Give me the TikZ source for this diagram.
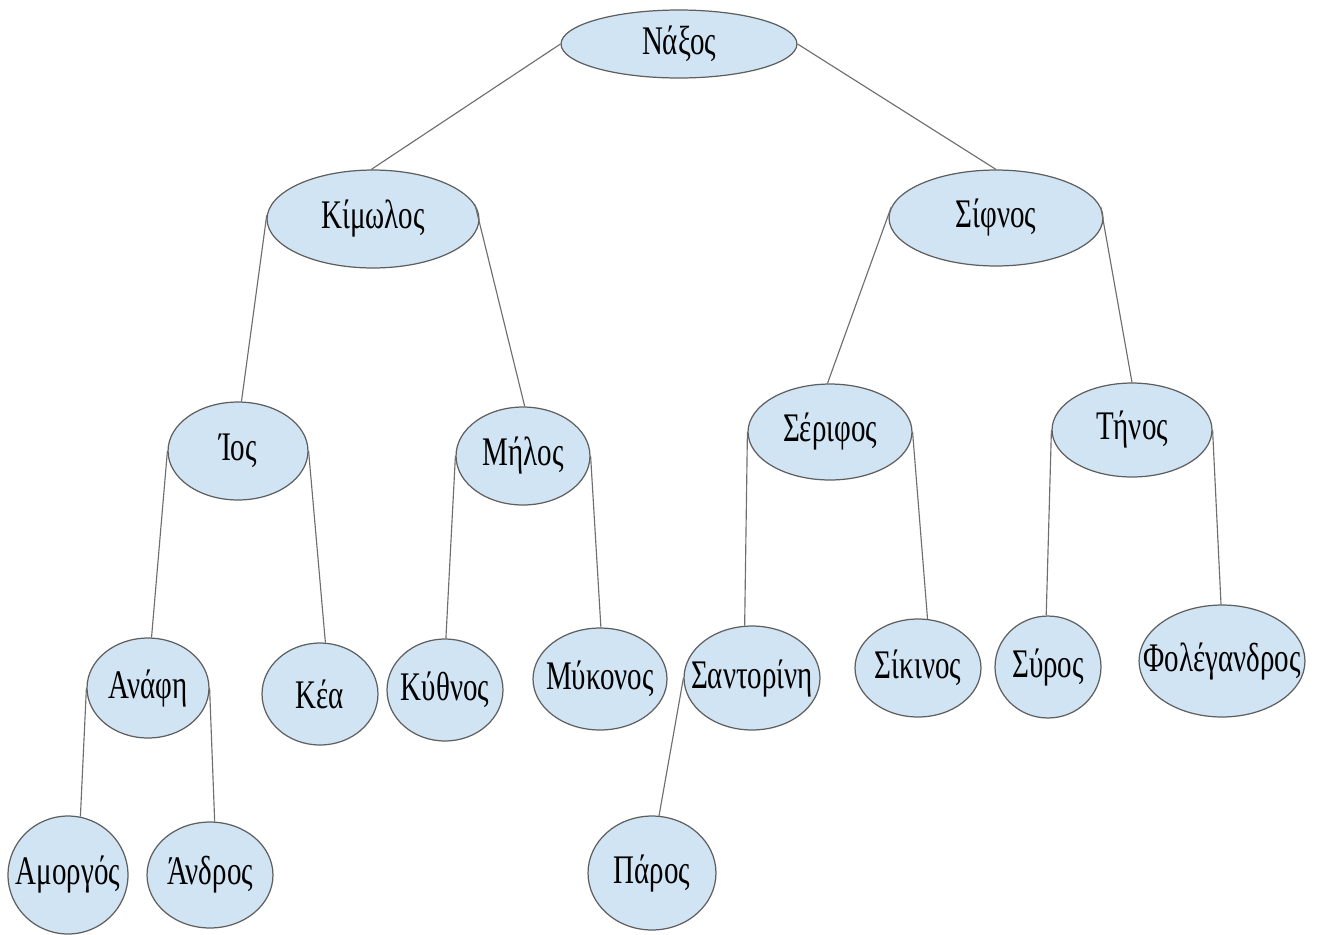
\documentclass[tikz,border=0pt]{standalone}
\usepackage{fontspec}
\usepackage{graphicx}
\setmainfont{Liberation Serif}
\usetikzlibrary{shapes.geometric}
\definecolor{islefill}{RGB}{208,228,243}
\definecolor{isleline}{RGB}{95,95,95}
\definecolor{edgeline}{RGB}{110,110,110}
\newcommand\tallname[1]{\scalebox{1}[1.4]{#1}}
\tikzset{
  isle/.style={ellipse, draw=isleline, line width=0.7pt, fill=islefill, inner sep=0pt},
  sz/.style 2 args={minimum width=#1*0.04cm, minimum height=#2*0.04cm},
  txt/.style={font=\fontsize{16.5}{18}\selectfont, inner sep=0pt, text=black},
  link/.style={draw=edgeline, line width=0.65pt},
}
\begin{document}
\begin{tikzpicture}[x=0.02cm, y=-0.02cm]
\useasboundingbox (0,0) rectangle (1318,934);
% ellipses, placed by centre with half-axes rx, ry
\node[isle, sz={118}{34}] (naxos) at (679,44) {};
\node[isle, sz={106}{49}] (kimolos) at (373,219) {};
\node[isle, sz={107}{48}] (sifnos) at (996,218) {};
\node[isle, sz={70}{49}] (ios) at (238,451) {};
\node[isle, sz={67}{49}] (milos) at (523,456) {};
\node[isle, sz={82}{48}] (serifos) at (830,432) {};
\node[isle, sz={80}{47}] (tinos) at (1132,430) {};
\node[isle, sz={61}{50}] (anafi) at (148,688) {};
\node[isle, sz={58}{51}] (kea) at (320,694) {};
\node[isle, sz={58}{51}] (kythnos) at (445,690) {};
\node[isle, sz={67}{51}] (mykonos) at (600,679) {};
\node[isle, sz={68}{52}] (santorini) at (752,678) {};
\node[isle, sz={63}{49}] (sikinos) at (918,668) {};
\node[isle, sz={53}{51}] (syros) at (1048,667) {};
\node[isle, sz={83}{56}] (folegandros) at (1222,661) {};
\node[isle, sz={60}{59}] (amorgos) at (68,875) {};
\node[isle, sz={63}{53}] (andros) at (210,875) {};
\node[isle, sz={64}{57}] (paros) at (652,873) {};
% names
\node[txt] (naxos-t) at (naxos) {\tallname{Νάξος}};
\node[txt] (kimolos-t) at (kimolos) {\tallname{Κίμωλος}};
\node[txt] (sifnos-t) at (sifnos) {\tallname{Σίφνος}};
\node[txt] (ios-t) at (ios) {\tallname{Ίος}};
\node[txt] (milos-t) at (milos) {\tallname{Μήλος}};
\node[txt] (serifos-t) at (serifos) {\tallname{Σέριφος}};
\node[txt] (tinos-t) at (tinos) {\tallname{Τήνος}};
\node[txt] (anafi-t) at (anafi) {\tallname{Ανάφη}};
\node[txt] (kea-t) at (kea) {\tallname{Κέα}};
\node[txt] (kythnos-t) at (kythnos) {\tallname{Κύθνος}};
\node[txt] (mykonos-t) at (mykonos) {\tallname{Μύκονος}};
\node[txt] (santorini-t) at (santorini) {\tallname{Σαντορίνη}};
\node[txt] (sikinos-t) at (sikinos) {\tallname{Σίκινος}};
\node[txt] (syros-t) at (syros) {\tallname{Σύρος}};
\node[txt] (folegandros-t) at (folegandros) {\tallname{Φολέγανδρος}};
\node[txt] (amorgos-t) at (amorgos) {\tallname{Αμοργός}};
\node[txt] (andros-t) at (andros) {\tallname{Άνδρος}};
\node[txt] (paros-t) at (paros) {\tallname{Πάρος}};
% tree edges: parent side to the top of each child
\path[link] (naxos.west) -- (kimolos.92);
\path[link] (naxos.east) -- (sifnos.north);
\path[link] (kimolos.178) -- (ios.86);
\path[link] (kimolos.8) -- (milos.88);
\path[link] (sifnos.174) -- (serifos.93);
\path[link] (sifnos.6) -- (tinos.90);
\path[link] (ios.west) -- (anafi.86);
\path[link] (ios.east) -- (kea.84);
\path[link] (milos.west) -- (kythnos.89);
\path[link] (milos.east) -- (mykonos.89);
\path[link] (serifos.west) -- (santorini.98);
\path[link] (serifos.east) -- (sikinos.79);
\path[link] (tinos.west) -- (syros.92);
\path[link] (tinos.east) -- (folegandros.91);
\path[link] (anafi.west) -- (amorgos.78);
\path[link] (anafi.east) -- (andros.85);
\path[link] (santorini.west) -- (paros.83);
\end{tikzpicture}
\end{document}
